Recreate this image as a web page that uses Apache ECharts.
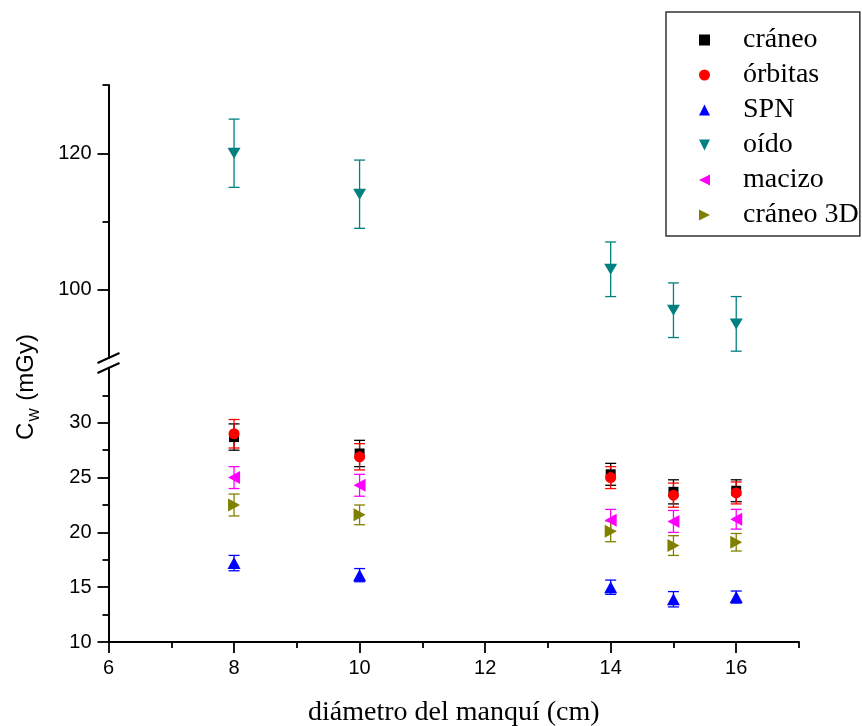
<!DOCTYPE html>
<html>
<head>
<meta charset="utf-8">
<script src="https://cdn.jsdelivr.net/npm/echarts@6/dist/echarts.min.js"></script>
<style>html,body{margin:0;padding:0;background:#fff}#c{width:862px;height:726px}</style>
</head>
<body>
<div id="c"></div>
<script>
// ---- data ----
const xVals = [8, 10, 14, 15, 16];
const craneo = [28.7, 27.2, 25.3, 23.7, 23.8];
const craneoErr = [1.2, 1.2, 1.0, 1.1, 1.0];
const orbitas = [29.0, 26.9, 25.0, 23.4, 23.6];
const orbitasErr = [1.3, 1.2, 1.0, 1.1, 1.0];
const spn = [17.2, 16.1, 15.0, 13.9, 14.1];
const spnErr = [0.7, 0.6, 0.65, 0.7, 0.55];
const oido = [120, 114, 103, 97, 95];
const oidoErr = [5, 5, 4, 4, 4];
const macizo = [25.0, 24.3, 21.1, 21.0, 21.2];
const macizoErr = [1.0, 1.0, 1.0, 1.0, 0.9];
const craneo3d = [22.5, 21.6, 20.1, 18.8, 19.1];
const craneo3dErr = [1.0, 0.9, 0.95, 0.9, 0.8];

const xMajorTicks = [6, 8, 10, 12, 14, 16];
const xMinorTicks = [7, 9, 11, 13, 15, 17];
const yUpMajor = [100, 120];
const yUpMinor = [110, 130];
const yLowMajor = [10, 15, 20, 25, 30];
const yLowMinor = [12.5, 17.5, 22.5, 27.5, 32.5];

const names = ['cráneo', 'órbitas', 'SPN', 'oído', 'macizo', 'cráneo 3D'];

// ---- layout ----
const L = 108.5, R = 63;
const upTop = 85, upH = 273;
const lowTop = 368, lowH = 274;

const SANS = 'Liberation Sans, Arial, sans-serif';
const SERIF = 'Liberation Serif, Times New Roman, serif';

const chart = echarts.init(document.getElementById('c'));

function pairs(vals) { return xVals.map((x, i) => [x, vals[i]]); }
function errData(vals, errs) { return xVals.map((x, i) => [x, vals[i] - errs[i], vals[i] + errs[i]]); }

function errSeries(name, vals, errs, color, gi) {
  return {
    name: name + '_err', type: 'custom', xAxisIndex: gi === 0 ? 0 : 1, yAxisIndex: gi === 0 ? 0 : 2,
    data: errData(vals, errs), encode: { x: 0, y: [1, 2] }, silent: true,
    renderItem: function (params, api) {
      const x = api.value(0);
      const lo = api.coord([x, api.value(1)]);
      const hi = api.coord([x, api.value(2)]);
      const hw = 5.5;
      const st = { stroke: color, lineWidth: 1.3, fill: null };
      return {
        type: 'group', children: [
          { type: 'line', shape: { x1: hi[0], y1: hi[1], x2: lo[0], y2: lo[1] }, style: st },
          { type: 'line', shape: { x1: hi[0] - hw, y1: hi[1], x2: hi[0] + hw, y2: hi[1] }, style: st },
          { type: 'line', shape: { x1: lo[0] - hw, y1: lo[1], x2: lo[0] + hw, y2: lo[1] }, style: st }
        ]
      };
    }
  };
}

function scatter(name, vals, color, symbol, size, gi) {
  return {
    name: name, type: 'scatter', xAxisIndex: gi === 0 ? 0 : 1, yAxisIndex: gi === 0 ? 0 : 2,
    data: pairs(vals), symbol: symbol, symbolSize: size,
    itemStyle: { color: color, opacity: 1 }, emphasis: { disabled: true }
  };
}

const DOWN = 'path://M0,0L2,0L1,2Z';
const LEFT = 'path://M2,0L2,2L0,1Z';
const RIGHT = 'path://M0,0L2,1L0,2Z';

const tickStyle = { color: '#000', width: 1.8 };

const option = {
  animation: false,
  backgroundColor: '#fff',
  grid: [
    { left: L, right: R, top: upTop, height: upH, outerBoundsMode: 'none', containLabel: false },
    { left: L, right: R, top: lowTop, height: lowH, outerBoundsMode: 'none', containLabel: false }
  ],
  xAxis: [
    { gridIndex: 0, type: 'value', min: 6, max: 17, show: false },
    {
      gridIndex: 1, type: 'value', min: 6, max: 17, position: 'bottom',
      axisLine: { show: true, onZero: false, lineStyle: { color: '#000', width: 2 } },
      axisTick: { show: true, customValues: xMajorTicks, length: 11, lineStyle: tickStyle },
      axisLabel: { customValues: xMajorTicks, fontFamily: SANS, fontSize: 20, color: '#000', margin: 16 },
      splitLine: { show: false },
      name: 'diámetro del manquí (cm)', nameLocation: 'middle', nameGap: 57,
      nameTextStyle: { fontFamily: SERIF, fontSize: 28, color: '#000' }
    },
    {
      gridIndex: 1, type: 'value', min: 6, max: 17, position: 'bottom', offset: 0,
      axisLine: { show: false, onZero: false },
      axisTick: { show: true, customValues: xMinorTicks, length: 6, lineStyle: tickStyle },
      axisLabel: { show: false }, splitLine: { show: false }
    }
  ],
  yAxis: [
    {
      gridIndex: 0, type: 'value', min: 90, max: 130, position: 'left',
      axisLine: { show: true, onZero: false, lineStyle: { color: '#000', width: 2 } },
      axisTick: { show: true, customValues: yUpMajor, length: 11, lineStyle: tickStyle },
      axisLabel: { customValues: yUpMajor, fontFamily: SANS, fontSize: 20, color: '#000', margin: 17 },
      splitLine: { show: false }
    },
    {
      gridIndex: 0, type: 'value', min: 90, max: 130, position: 'left', offset: 0,
      axisLine: { show: false, onZero: false },
      axisTick: { show: true, customValues: yUpMinor, length: 6, lineStyle: tickStyle },
      axisLabel: { show: false }, splitLine: { show: false }
    },
    {
      gridIndex: 1, type: 'value', min: 10, max: 35, position: 'left',
      axisLine: { show: true, onZero: false, lineStyle: { color: '#000', width: 2 } },
      axisTick: { show: true, customValues: yLowMajor, length: 11, lineStyle: tickStyle },
      axisLabel: { customValues: yLowMajor, fontFamily: SANS, fontSize: 20, color: '#000', margin: 17 },
      splitLine: { show: false }
    },
    {
      gridIndex: 1, type: 'value', min: 10, max: 35, position: 'left', offset: 0,
      axisLine: { show: false, onZero: false },
      axisTick: { show: true, customValues: yLowMinor, length: 6, lineStyle: tickStyle },
      axisLabel: { show: false }, splitLine: { show: false }
    }
  ],
  legend: {
    data: names, orient: 'vertical', left: 666, top: 12,
    padding: [13, 1, 6, 33], itemGap: 5, itemWidth: 11, itemHeight: 11,
    borderColor: '#333', borderWidth: 1.5, selectedMode: false,
    textStyle: { fontFamily: SERIF, fontSize: 28, color: '#000', lineHeight: 30, padding: [0, 0, 0, 28] }
  },
  graphic: [
    {
      type: 'text', x: 26, y: 387, rotation: Math.PI / 2,
      style: {
        text: '{c|C}{s|W}{c| (mGy)}', align: 'center', verticalAlign: 'middle',
        rich: {
          c: { fontFamily: SANS, fontSize: 24, fill: '#000', verticalAlign: 'bottom' },
          s: { fontFamily: SANS, fontSize: 14, fill: '#000', verticalAlign: 'bottom', padding: [0, 1, -4, 1] }
        }
      }
    },
    { type: 'rect', shape: { x: L - 3, y: upTop + upH + 1, width: 6, height: lowTop - upTop - upH - 2 }, style: { fill: '#fff' }, z: 100 },
    { type: 'line', shape: { x1: L - 11, y1: upTop + upH + 5, x2: L + 11, y2: upTop + upH - 5 }, style: { stroke: '#000', lineWidth: 2 }, z: 101 },
    { type: 'line', shape: { x1: L - 11, y1: lowTop + 5, x2: L + 11, y2: lowTop - 5 }, style: { stroke: '#000', lineWidth: 2 }, z: 101 }
  ],
  series: [
    errSeries('cráneo', craneo, craneoErr, '#000000', 1),
    scatter('cráneo', craneo, '#000000', 'rect', 10, 1),
    errSeries('órbitas', orbitas, orbitasErr, '#ff0000', 1),
    scatter('órbitas', orbitas, '#ff0000', 'circle', 11, 1),
    errSeries('SPN', spn, spnErr, '#0000ff', 1),
    scatter('SPN', spn, '#0000ff', 'triangle', [13, 12], 1),
    errSeries('oído', oido, oidoErr, '#008080', 0),
    scatter('oído', oido, '#008080', DOWN, [13, 11], 0),
    errSeries('macizo', macizo, macizoErr, '#ff00ff', 1),
    scatter('macizo', macizo, '#ff00ff', LEFT, [12, 13], 1),
    errSeries('cráneo 3D', craneo3d, craneo3dErr, '#808000', 1),
    scatter('cráneo 3D', craneo3d, '#808000', RIGHT, [12, 13], 1)
  ]
};
chart.setOption(option);
</script>
</body>
</html>
